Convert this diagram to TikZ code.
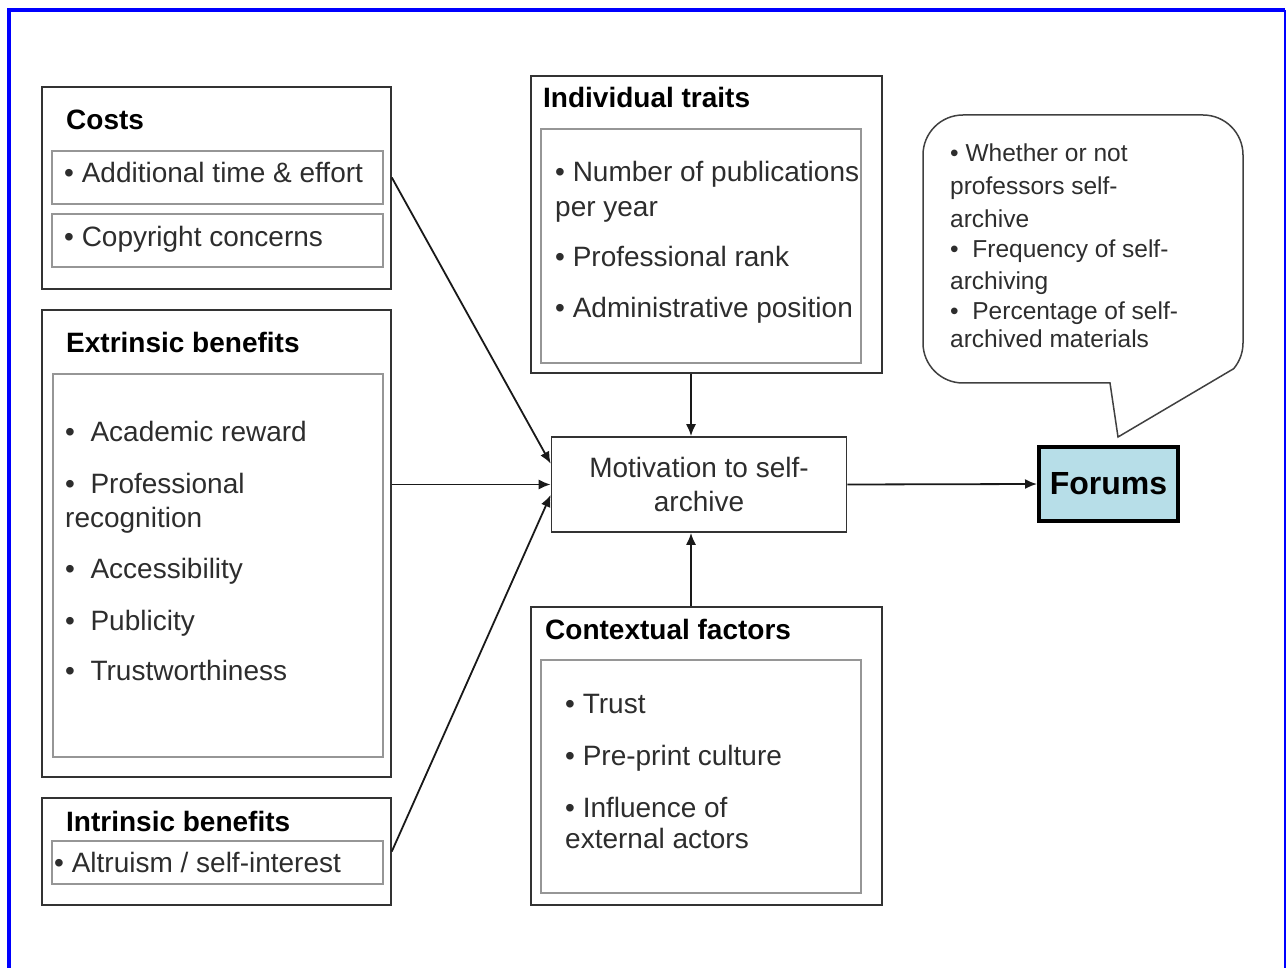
\documentclass[tikz,border=0pt]{standalone}
\usepackage{fontspec}
\setmainfont{Liberation Sans}
\usepackage{tikz}
\usetikzlibrary{fit}
\usetikzlibrary{arrows.meta}
\usepackage{xcolor}
\definecolor{ColFrame}{RGB}{0,0,255}
\definecolor{ColForum}{RGB}{183,222,232}
\definecolor{ColText}{RGB}{45,45,45}
\definecolor{ColInner}{RGB}{150,150,150}
\newcommand{\ItemFont}{\fontsize{28}{34}\selectfont}
\newcommand{\TitleFont}{\fontsize{28}{34}\selectfont\bfseries}
\newcommand{\NoteFont}{\fontsize{24.5}{30}\selectfont}
\tikzstyle{OuterBox}=[draw=black!80,line width=1.6pt,inner sep=0pt]
\tikzstyle{InnerBox}=[draw=ColInner,line width=1.6pt,inner sep=0pt]
\tikzstyle{Title}=[anchor=base west,inner sep=0pt,font=\TitleFont]
\tikzstyle{Item}=[anchor=base west,inner sep=0pt,font=\ItemFont,text=ColText]
\tikzstyle{Note}=[anchor=base west,inner sep=0pt,font=\NoteFont,text=ColText]
\tikzstyle{Link}=[black!90,line width=1.8pt,-{Latex[length=12pt,width=10pt]}]

\begin{document}
\begin{tikzpicture}[x=1pt,y=-1pt]
        \useasboundingbox(0,0)rectangle(1286,968);
        % frame
        \draw[ColFrame,line width=4pt](9,968)--(9,10)--(1285,10);
        \draw[ColFrame,line width=1.5pt](1285,10)--(1285,968);
        % costs
        \node[OuterBox,fit={(42,87)(391,289)}](costs){};
        \node[InnerBox,fit={(52,151)(383,204)}](c1){};
        \node[InnerBox,fit={(52,214)(383,267)}](c2){};
        \node[Title](costsT)at(66,130){Costs};
        \node[Item](c1T)at(64,183){• Additional time \& effort};
        \node[Item](c2T)at(64,247){• Copyright concerns};
        % extrinsic benefits
        \node[OuterBox,fit={(42,310)(391,777)}](extr){};
        \node[InnerBox,fit={(53,374)(383,757)}](extrIn){};
        \node[Title](extrT)at(66,353){Extrinsic benefits};
        \foreach \n/\y/\t in {1/442/{•\ \ Academic reward},2/493/{•\ \ Professional},
            3/527/recognition,4/578/{•\ \ Accessibility},5/630/{•\ \ Publicity},
            6/680/{•\ \ Trustworthiness}}
            \node[Item](e\n)at(65,\y){\t};
        % intrinsic benefits
        \node[OuterBox,fit={(42,798)(391,905)}](intr){};
        \node[InnerBox,fit={(52,841)(383,884)}](i1){};
        \node[Title](intrT)at(66,831){Intrinsic benefits};
        \node[Item](i1T)at(54,872){• Altruism / self-interest};
        % individual traits
        \node[OuterBox,fit={(531,76)(882,373)}](indiv){};
        \node[InnerBox,fit={(541,129)(861,363)}](indivIn){};
        \node[Title](indivT)at(543,108){Individual traits};
        \foreach \n/\y/\t in {1/182/{• Number of publications},2/217/{per year},
            3/267/{• Professional rank},4/318/{• Administrative position}}
            \node[Item](t\n)at(555,\y){\t};
        % contextual factors
        \node[OuterBox,fit={(531,607)(882,905)}](context){};
        \node[InnerBox,fit={(541,660)(861,893)}](contextIn){};
        \node[Title](contextT)at(545,639){Contextual factors};
        \foreach \n/\y/\t in {1/713/{• Trust},2/765/{• Pre-print culture},
            3/817/{• Influence of},4/848/{external actors}}
            \node[Item](f\n)at(565,\y){\t};
        % motivation and forums
        \node[OuterBox,minimum width=295pt,minimum height=95pt,align=center,
            font=\ItemFont,text=ColText](motiv)at(699,484.5){Motivation to self-\\archive};
        \node[draw=black,line width=4pt,fill=ColForum,minimum width=139pt,minimum height=74pt,
            font=\fontsize{32}{38}\selectfont\bfseries](forums)at(1108.5,484){Forums};
        % callout
        \draw[black!75,line width=1.5pt](1110,383)--(963,383)
            arc[start angle=270,end angle=180,radius=40pt]--(923,155)
            arc[start angle=180,end angle=90,radius=40pt]--(1203,115)
            arc[start angle=90,end angle=0,radius=40pt]--(1243,343)
            arc[start angle=0,end angle=-40,radius=40pt]--(1118,437)--cycle;
        \foreach \n/\y/\t in {1/162/{• Whether or not},2/195/{professors self-},3/228/archive,
            4/258/{•\ \ Frequency of self-},5/290/archiving,6/320/{•\ \ Percentage of self-},
            7/348/{archived materials}}
            \node[Note](n\n)at(950,\y){\t};
        % links
        \coordinate(mtop)at([xshift=-8pt]motiv.north);
        \coordinate(mbot)at([xshift=-8pt]motiv.south);
        \draw[Link](costs.east|-c1.east)--(motiv.172);
        \draw[Link](motiv.west-|extr.east)--(motiv.west);
        \draw[Link](intr.east)--(motiv.184);
        \draw[Link](indiv.south-|mtop)--(mtop);
        \draw[Link](context.north-|mbot)--(mbot);
        \draw[Link](motiv.east)--(forums.west);
    \end{tikzpicture}
\end{document}
